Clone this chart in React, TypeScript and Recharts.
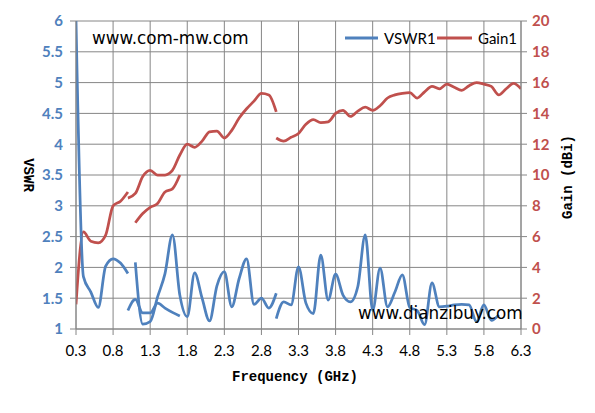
import React from 'react';
import { LineChart, Line, XAxis, YAxis, CartesianGrid } from 'recharts';

const xTicks = [0.3, 0.8, 1.3, 1.8, 2.3, 2.8, 3.3, 3.8, 4.3, 4.8, 5.3, 5.8, 6.3];
const vswrTicks = [1, 1.5, 2, 2.5, 3, 3.5, 4, 4.5, 5, 5.5, 6];
const gainTicks = [0, 2, 4, 6, 8, 10, 12, 14, 16, 18, 20];

// VSWR1 segments
const vswrSeg1 = [
  { f: 0.3, v: 6.0 }, { f: 0.4, v: 1.85 }, { f: 0.5, v: 1.6 }, { f: 0.6, v: 1.35 },
  { f: 0.7, v: 2.02 }, { f: 0.8, v: 2.14 }, { f: 0.9, v: 2.07 }, { f: 1.0, v: 1.9 },
];
const vswrSeg2 = [
  { f: 1.0, v: 1.3 }, { f: 1.1, v: 1.48 }, { f: 1.2, v: 1.26 }, { f: 1.3, v: 1.26 },
  { f: 1.4, v: 1.42 }, { f: 1.5, v: 1.34 }, { f: 1.6, v: 1.27 }, { f: 1.7, v: 1.21 },
];
const vswrSeg3 = [
  { f: 1.1, v: 2.08 }, { f: 1.2, v: 1.08 }, { f: 1.3, v: 1.12 }, { f: 1.4, v: 1.52 },
  { f: 1.5, v: 1.9 }, { f: 1.6, v: 2.53 }, { f: 1.7, v: 1.55 }, { f: 1.8, v: 1.2 },
  { f: 1.9, v: 1.91 }, { f: 2.0, v: 1.5 }, { f: 2.1, v: 1.13 }, { f: 2.2, v: 1.7 },
  { f: 2.3, v: 1.93 }, { f: 2.4, v: 1.36 }, { f: 2.5, v: 1.82 }, { f: 2.6, v: 2.14 },
  { f: 2.7, v: 1.4 }, { f: 2.8, v: 1.5 }, { f: 2.9, v: 1.34 }, { f: 3.0, v: 1.58 },
];
const vswrSeg4 = [
  { f: 3.0, v: 1.17 }, { f: 3.1, v: 1.44 }, { f: 3.2, v: 1.39 }, { f: 3.3, v: 2.01 },
  { f: 3.4, v: 1.42 }, { f: 3.5, v: 1.25 }, { f: 3.6, v: 2.2 }, { f: 3.7, v: 1.47 },
  { f: 3.8, v: 1.89 }, { f: 3.9, v: 1.55 }, { f: 4.0, v: 1.44 }, { f: 4.1, v: 1.69 },
  { f: 4.2, v: 2.53 }, { f: 4.3, v: 1.3 }, { f: 4.4, v: 1.99 }, { f: 4.5, v: 1.36 },
  { f: 4.6, v: 1.6 }, { f: 4.7, v: 1.88 }, { f: 4.8, v: 1.35 }, { f: 4.9, v: 1.3 },
  { f: 5.0, v: 1.07 }, { f: 5.1, v: 1.75 }, { f: 5.2, v: 1.36 }, { f: 5.3, v: 1.37 },
  { f: 5.4, v: 1.39 }, { f: 5.5, v: 1.4 }, { f: 5.6, v: 1.39 }, { f: 5.7, v: 1.12 },
  { f: 5.8, v: 1.39 }, { f: 5.9, v: 1.14 }, { f: 6.0, v: 1.23 },
];

// Gain1 segments (dBi)
const gainSeg1 = [
  { f: 0.3, g: 1.6 }, { f: 0.4, g: 6.3 }, { f: 0.5, g: 5.7 }, { f: 0.6, g: 5.6 },
  { f: 0.7, g: 6.1 }, { f: 0.8, g: 8.0 }, { f: 0.9, g: 8.3 }, { f: 1.0, g: 8.9 },
];
const gainSeg2 = [
  { f: 1.0, g: 8.5 }, { f: 1.1, g: 8.8 }, { f: 1.2, g: 9.9 }, { f: 1.3, g: 10.3 },
  { f: 1.4, g: 10.0 }, { f: 1.5, g: 10.0 }, { f: 1.6, g: 10.3 }, { f: 1.7, g: 11.3 },
  { f: 1.8, g: 12.0 }, { f: 1.9, g: 11.8 }, { f: 2.0, g: 12.2 }, { f: 2.1, g: 12.8 },
  { f: 2.2, g: 12.85 }, { f: 2.3, g: 12.4 }, { f: 2.4, g: 12.9 }, { f: 2.5, g: 13.7 },
  { f: 2.6, g: 14.3 }, { f: 2.7, g: 14.8 }, { f: 2.8, g: 15.3 }, { f: 2.9, g: 15.2 },
  { f: 3.0, g: 14.1 },
];
const gainSeg3 = [
  { f: 1.1, g: 6.9 }, { f: 1.2, g: 7.5 }, { f: 1.3, g: 7.9 }, { f: 1.4, g: 8.15 },
  { f: 1.5, g: 8.9 }, { f: 1.6, g: 9.1 }, { f: 1.7, g: 10.0 },
];
const gainSeg4 = [
  { f: 3.0, g: 12.4 }, { f: 3.1, g: 12.2 }, { f: 3.2, g: 12.45 }, { f: 3.3, g: 12.7 },
  { f: 3.4, g: 13.3 }, { f: 3.5, g: 13.6 }, { f: 3.6, g: 13.4 }, { f: 3.7, g: 13.45 },
  { f: 3.8, g: 14.0 }, { f: 3.9, g: 14.2 }, { f: 4.0, g: 13.8 }, { f: 4.1, g: 14.15 },
  { f: 4.2, g: 14.4 }, { f: 4.3, g: 14.2 }, { f: 4.4, g: 14.5 }, { f: 4.5, g: 15.0 },
  { f: 4.6, g: 15.2 }, { f: 4.7, g: 15.3 }, { f: 4.8, g: 15.35 }, { f: 4.9, g: 15.0 },
  { f: 5.0, g: 15.4 }, { f: 5.1, g: 15.75 }, { f: 5.2, g: 15.6 }, { f: 5.3, g: 15.9 },
  { f: 5.4, g: 15.7 }, { f: 5.5, g: 15.5 }, { f: 5.6, g: 15.8 }, { f: 5.7, g: 16.0 },
  { f: 5.8, g: 15.9 }, { f: 5.9, g: 15.75 }, { f: 6.0, g: 15.2 }, { f: 6.1, g: 15.6 },
  { f: 6.2, g: 15.95 }, { f: 6.3, g: 15.6 },
];

const BLUE = '#4F81BD';
const RED = '#C0504D';
const GRID = '#868686';
const TICK_FONT = 'Lato, "Liberation Sans", sans-serif';
const LABEL_FONT = "'Liberation Mono', 'Courier New', monospace";
const WM_FONT = '"DejaVu Sans", Verdana, sans-serif';

export default function App() {
  const lineCommon = { type: 'monotone' as const, dot: false, activeDot: false, isAnimationActive: false, strokeWidth: 2.75 };
  const labelStyle = { fontFamily: LABEL_FONT, fontSize: 14, fontWeight: 700 } as React.CSSProperties;
  return (
    <div style={{ position: 'absolute', left: 0, top: 0, width: 595, height: 413, background: '#fff' }}>
      <LineChart width={595} height={413} margin={{ top: 21, right: 0, bottom: 0, left: 0 }}>
        <CartesianGrid yAxisId="left" stroke={GRID} strokeWidth={1} />
        <XAxis
          dataKey="f"
          type="number"
          domain={[0.3, 6.3]}
          ticks={xTicks}
          interval={0}
          allowDataOverflow
          tickFormatter={(v: number) => v.toFixed(1)}
          height={84}
          stroke={GRID}
          tickSize={6}
          tickMargin={10}
          tick={{ fill: '#000', fontFamily: TICK_FONT, fontSize: 15 }}
        />
        <YAxis
          yAxisId="left"
          orientation="left"
          domain={[1, 6]}
          ticks={vswrTicks}
          interval={0}
          allowDataOverflow
          width={76}
          stroke={GRID}
          tickSize={6}
          tickMargin={7}
          tick={{ fill: BLUE, fontFamily: TICK_FONT, fontSize: 15, fontWeight: 'bold' }}
        />
        <YAxis
          yAxisId="right"
          orientation="right"
          domain={[0, 20]}
          ticks={gainTicks}
          interval={0}
          allowDataOverflow
          width={74}
          stroke={GRID}
          tickSize={6}
          tickMargin={5}
          tick={{ fill: RED, fontFamily: TICK_FONT, fontSize: 15, fontWeight: 'bold' }}
        />
        <Line {...lineCommon} data={gainSeg1} dataKey="g" yAxisId="right" stroke={RED} name="Gain1" />
        <Line {...lineCommon} data={gainSeg2} dataKey="g" yAxisId="right" stroke={RED} name="Gain1b" />
        <Line {...lineCommon} data={gainSeg3} dataKey="g" yAxisId="right" stroke={RED} name="Gain1c" />
        <Line {...lineCommon} data={gainSeg4} dataKey="g" yAxisId="right" stroke={RED} name="Gain1d" />
        <Line {...lineCommon} data={vswrSeg1} dataKey="v" yAxisId="left" stroke={BLUE} name="VSWR1" />
        <Line {...lineCommon} data={vswrSeg2} dataKey="v" yAxisId="left" stroke={BLUE} name="VSWR1b" />
        <Line {...lineCommon} data={vswrSeg3} dataKey="v" yAxisId="left" stroke={BLUE} name="VSWR1c" />
        <Line {...lineCommon} data={vswrSeg4} dataKey="v" yAxisId="left" stroke={BLUE} name="VSWR1d" />
      </LineChart>
      <svg width={595} height={413} style={{ position: 'absolute', left: 0, top: 0, pointerEvents: 'none' }}>
        <line x1={345} x2={378} y1={38} y2={38} stroke={BLUE} strokeWidth={3} />
        <text x={384} y={44} fontFamily={TICK_FONT} fontSize={15} fill="#000">VSWR1</text>
        <line x1={437} x2={472} y1={38} y2={38} stroke={RED} strokeWidth={3} />
        <text x={478} y={44} fontFamily={TICK_FONT} fontSize={15} fill="#000">Gain1</text>
        <text x={92} y={44} fontFamily={WM_FONT} fontSize={16.8} fill="#000">www.com-mw.com</text>
        <text x={358} y={319} fontFamily={WM_FONT} fontSize={16.8} fill="#000">www.dianzibuy.com</text>
        <text transform="translate(29,175) rotate(90)" textAnchor="middle" dy="0.35em" style={labelStyle} fill="#000">VSWR</text>
        <text transform="translate(567,177) rotate(-90)" textAnchor="middle" dy="0.35em" style={labelStyle} fill="#000">Gain (dBi)</text>
        <text x={295} y={381} textAnchor="middle" style={labelStyle} fill="#000">Frequency (GHz)</text>
      </svg>
    </div>
  );
}
